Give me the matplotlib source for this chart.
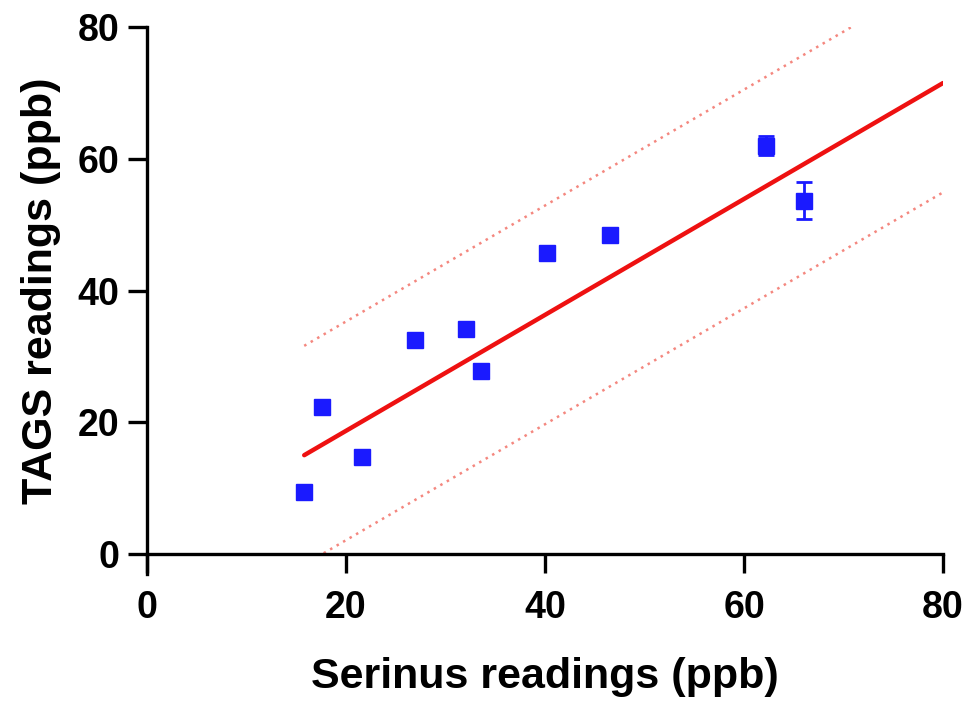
import numpy as np
import matplotlib.pyplot as plt

plt.rcParams['font.family'] = ['Liberation Sans', 'DejaVu Sans']
plt.rcParams['font.weight'] = 'bold'

# Data
serinus = [15.8, 17.6, 21.6, 26.9, 32.1, 33.6, 40.2, 46.5, 62.2, 66.0]
tags    = [9.4, 22.3, 14.7, 32.5, 34.1, 27.8, 45.7, 48.4, 62.0, 53.6]
tags_err = [0.3, 0.6, 0.3, 0.4, 0.3, 0.3, 0.4, 0.8, 1.5, 2.8]

# Regression line and prediction band
slope, intercept = 0.88, 1.1
band = 16.6
fit_x  = [15.8, 80]
band_x = [15.8, 80]

fig = plt.figure(figsize=(9.69, 7.02), dpi=100)
ax = fig.add_axes([0.1517, 0.2108, 0.8215, 0.7507])

fx = np.array(fit_x)
bx = np.array(band_x)
ax.plot(bx, slope * bx + intercept + band, ls=(0, (1, 2)), color='#f4877f', lw=1.8, zorder=1)
ax.plot(bx, slope * bx + intercept - band, ls=(0, (1, 2)), color='#f4877f', lw=1.8, zorder=1)
ax.plot(fx, slope * fx + intercept, color='#ee1111', lw=3.2, zorder=2, solid_capstyle='round')
ax.errorbar(serinus, tags, yerr=tags_err, fmt='s', color='#1a1aff', ms=11.5, elinewidth=2,
            capsize=5.6, capthick=2, zorder=3)

ax.set_xlim(0, 80)
ax.set_ylim(0, 80)
ax.set_xticks([0, 20, 40, 60, 80])
ax.set_yticks([0, 20, 40, 60, 80])
ax.spines['top'].set_visible(False)
ax.spines['right'].set_visible(False)
ax.spines['left'].set_linewidth(2.4)
ax.spines['bottom'].set_linewidth(2.4)
ax.spines['left'].set_bounds(-3.1, 80)
ax.tick_params(width=2.4, length=14, labelsize=27)
ax.tick_params(axis='x', pad=12)
ax.tick_params(axis='y', pad=6)
ax.set_xlabel('Serinus readings (ppb)', fontsize=31, fontweight='bold', labelpad=22)
ax.set_ylabel('TAGS readings (ppb)', fontsize=31, fontweight='bold', labelpad=12)

fig.savefig('out.png', dpi=100)
